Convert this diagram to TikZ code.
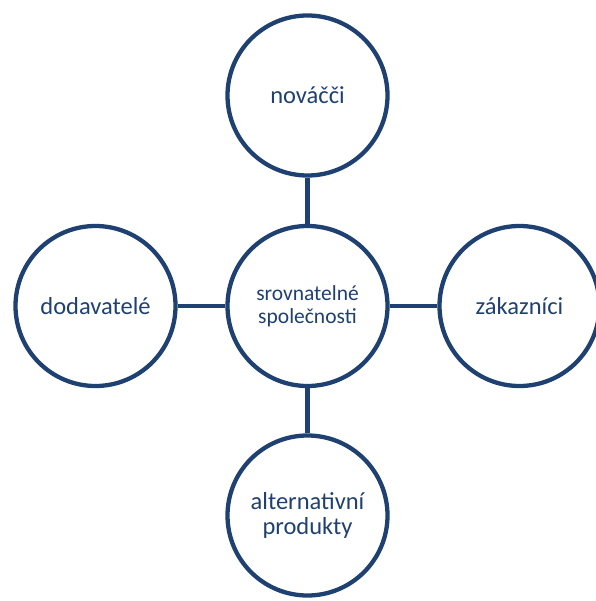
\documentclass[tikz,border=0pt]{standalone}
\usepackage{fontspec}
\setmainfont{Carlito}
\definecolor{navy}{HTML}{1F4172}
\begin{document}
\begin{tikzpicture}[x=1pt,y=1pt,
  circ/.style={circle,draw=navy,line width=4.3pt,fill=white,minimum size=160pt,inner sep=0pt,text=navy,align=center,font=\fontsize{24.5}{25.5}\selectfont},
  small/.style={font=\fontsize{21.5}{23}\selectfont},
  link/.style={draw=navy,line width=4.3pt}]
\useasboundingbox (0,0) rectangle (595,-601);
\node[circ,small] (c) at (307.5,-306) {srovnatelné\\společnosti};
\node[circ] (t) at (307.5,-95.5) {nováčči};
\node[circ] (l) at (95.5,-306) {dodavatelé};
\node[circ] (r) at (519.5,-306) {zákazníci};
\node[circ] (b) at (307.5,-515.5) {alternativní\\produkty};
\draw[link] (t) -- (c);
\draw[link] (l) -- (c);
\draw[link] (c) -- (r);
\draw[link] (c) -- (b);
\end{tikzpicture}
\end{document}
